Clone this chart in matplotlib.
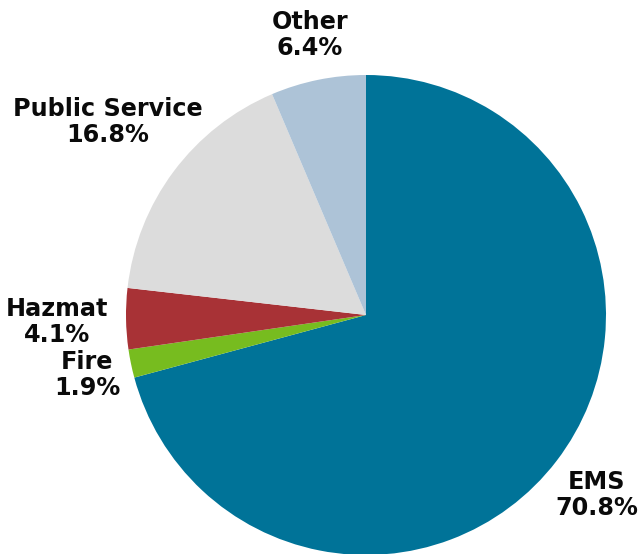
import matplotlib
matplotlib.use('Agg')
import matplotlib.pyplot as plt

labels = ['EMS', 'Fire', 'Hazmat', 'Public Service', 'Other']
shares = [70.8, 1.9, 4.1, 16.8, 6.4]
colors = ['#007398', '#77BC1F', '#A83236', '#DCDCDC', '#ADC3D7']

fig = plt.figure(figsize=(6.42, 5.54), dpi=100)
ax = fig.add_axes([0, 0, 1, 1])

ax.pie(shares, colors=colors, startangle=90, counterclock=False,
       center=(366, 239), radius=240, frame=True,
       wedgeprops=dict(linewidth=0))
ax.set_xlim(0, 642)
ax.set_ylim(0, 554)
ax.set_aspect('equal')
ax.axis('off')

# label positions in pixel space (x, y from top)
label_pos = {
    'EMS': (597, 495),
    'Fire': (87, 375),
    'Hazmat': (57, 322),
    'Public Service': (108, 122),
    'Other': (310, 35),
}
for lab, val in zip(labels, shares):
    x, y = label_pos[lab]
    ax.text(x, 554 - y, f'{lab}\n{val:.1f}%', ha='center', va='center',
            fontsize=17.2, fontweight='bold', color='#0a0a0a',
            linespacing=1.15, family='DejaVu Sans')

fig.savefig('out.png', dpi=100, facecolor='white')
